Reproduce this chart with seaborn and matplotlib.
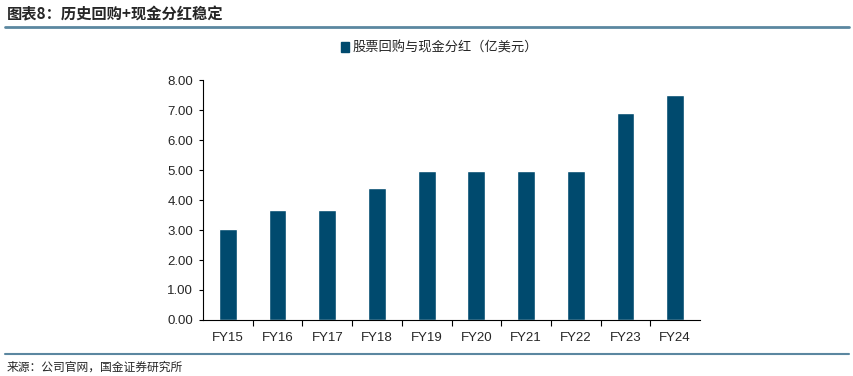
import pandas as pd
import numpy as np
import matplotlib.pyplot as plt
import seaborn as sns
from matplotlib.patches import Patch

# data
years = ['FY15', 'FY16', 'FY17', 'FY18', 'FY19', 'FY20', 'FY21', 'FY22', 'FY23', 'FY24']
payout = [3.02, 3.67, 3.67, 4.40, 4.97, 4.97, 4.97, 4.97, 6.90, 7.50]
series_name = '股票回购与现金分红（亿美元）'

sns.set_theme(style='white')
plt.rcParams['font.family'] = ['Liberation Sans', 'Noto Sans CJK SC', 'DejaVu Sans']

bar_color = '#004a6e'
df = pd.DataFrame({'year': years, 'value': payout})

fig = plt.figure(figsize=(8.54, 3.76), dpi=100)
ax = fig.add_axes([0.2377, 0.149, 0.582, 0.638])
sns.barplot(data=df, x='year', y='value', color=bar_color, width=0.36,
            saturation=1, ax=ax)

ax.set_xlim(-0.5, len(years) - 0.5)
ax.set_ylim(0, 8)
ax.set_yticks(np.arange(0, 8.01, 1))
ax.set_yticklabels([f'{v:.2f}' for v in np.arange(0, 8.01, 1)], fontsize=9.5)
ax.set_xlabel('')
ax.set_ylabel('')
ax.tick_params(axis='x', length=0, labelsize=9.5, pad=9)
ax.tick_params(axis='y', length=3, width=0.8, color='black', direction='out', left=True, pad=4)
# category boundary ticks
ax.set_xticks(np.arange(0.5, len(years) - 0.5), minor=True)
ax.tick_params(axis='x', which='minor', length=4, width=0.8, color='black', direction='out', bottom=True)
for s in ['top', 'right']:
    ax.spines[s].set_visible(False)
for s in ['left', 'bottom']:
    ax.spines[s].set_color('black')
    ax.spines[s].set_linewidth(0.8)

# legend
handle = Patch(facecolor=bar_color, edgecolor=bar_color)
fig.legend([handle], [series_name], loc='center', bbox_to_anchor=(0.515, 0.873),
           frameon=False, handlelength=0.6, handleheight=0.8, handletextpad=0.3,
           prop={'family': ['Noto Sans CJK SC'], 'size': 9.5})

# header and footer
fig.text(0.008, 0.962, '图表8：历史回购+现金分红稳定', fontsize=11, fontweight='bold',
         style='italic', family=['Noto Sans CJK SC'], va='center', ha='left')
fig.add_artist(plt.Line2D([0.006, 0.994], [0.928, 0.928], color='#5b87a0', lw=2))
fig.add_artist(plt.Line2D([0.006, 0.994], [0.058, 0.058], color='#5b87a0', lw=1.5))
fig.text(0.008, 0.024, '来源：公司官网，国金证券研究所', fontsize=8.5,
         family=['Noto Sans CJK SC'], va='center', ha='left')

fig.savefig('out.png', dpi=100)
